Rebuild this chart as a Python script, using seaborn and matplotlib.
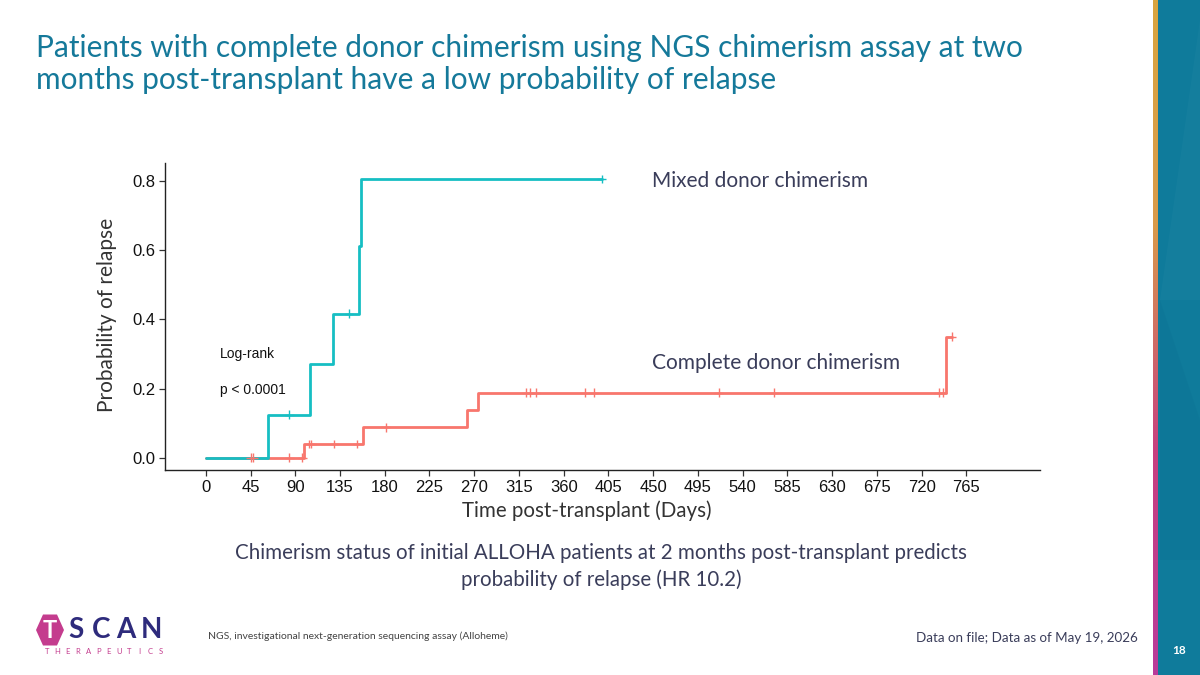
import matplotlib
matplotlib.use("Agg")
import matplotlib.pyplot as plt
import matplotlib.patches as mpatches
from matplotlib.colors import LinearSegmentedColormap
import numpy as np
import pandas as pd
import seaborn as sns

# ---------------- data ----------------
mixed_time = [0, 63, 105, 128, 154, 156, 398]
mixed_prob = [0.0, 0.125, 0.271, 0.417, 0.611, 0.806, 0.806]
mixed_censor_time = [84, 144, 398]
mixed_censor_prob = [0.125, 0.417, 0.806]

complete_time = [0, 99, 158, 263, 274, 744, 750]
complete_prob = [0.0, 0.040, 0.088, 0.139, 0.188, 0.350, 0.350]
complete_censor_time = [45, 48, 84, 97, 104, 106, 129, 152, 181, 322, 326, 332,
                        381, 390, 516, 571, 737, 741, 750]
complete_censor_prob = [0.0, 0.0, 0.0, 0.0, 0.040, 0.040, 0.040, 0.040, 0.088,
                        0.188, 0.188, 0.188, 0.188, 0.188, 0.188, 0.188, 0.188,
                        0.188, 0.350]

x_ticks = list(range(0, 766, 45))
y_ticks = [0.0, 0.2, 0.4, 0.6, 0.8]

groups = ["Complete donor chimerism", "Mixed donor chimerism"]
palette = {"Complete donor chimerism": "#F8766D", "Mixed donor chimerism": "#16BEC3"}

curves = pd.DataFrame({
    "time": complete_time + mixed_time,
    "prob": complete_prob + mixed_prob,
    "group": [groups[0]] * len(complete_time) + [groups[1]] * len(mixed_time),
})
censors = pd.DataFrame({
    "time": complete_censor_time + mixed_censor_time,
    "prob": complete_censor_prob + mixed_censor_prob,
    "group": [groups[0]] * len(complete_censor_time) + [groups[1]] * len(mixed_censor_time),
})

# ---------------- figure ----------------
sns.set_theme(style="white")
plt.rcParams["font.family"] = ["Lato", "DejaVu Sans"]

W, H = 1200, 675
fig = plt.figure(figsize=(12, 6.75), dpi=100)
fig.patch.set_facecolor("white")

def fx(px):
    return px / W

def fy(py):
    return 1 - py / H

# chart axes
ax = fig.add_axes([fx(165), fy(470), fx(1040) - fx(165), fy(163) - fy(470)])
ax.set_facecolor("white")
for i, g in enumerate(groups):
    sub = curves[curves["group"] == g]
    sns.lineplot(data=sub, x="time", y="prob", color=palette[g], ax=ax,
                 drawstyle="steps-post", linewidth=2.0, estimator=None,
                 sort=False, legend=False, zorder=2 + i)
sns.scatterplot(data=censors, x="time", y="prob", hue="group", palette=palette,
                marker="+", s=40, linewidth=1.0, ax=ax, legend=False, zorder=5)

ax.set_xlim(-41, 839)
ax.set_ylim(-0.035, 0.852)
ax.set_xticks(x_ticks)
ax.set_yticks(y_ticks)
ax.set_xticklabels([str(t) for t in x_ticks], fontfamily="Liberation Sans",
                   fontsize=12, color="#111111")
ax.set_yticklabels([f"{t:.1f}" for t in y_ticks], fontfamily="Liberation Sans",
                   fontsize=12, color="#111111")
ax.tick_params(axis="both", which="both", length=4, width=0.9, color="#333333",
               direction="out", bottom=True, left=True, pad=3)
for s in ["top", "right"]:
    ax.spines[s].set_visible(False)
for s in ["left", "bottom"]:
    ax.spines[s].set_color("#222222")
    ax.spines[s].set_linewidth(1.0)
ax.set_xlabel("")
ax.set_ylabel("")

ax.text(14, 0.30, "Log-rank", fontfamily="Liberation Sans", fontsize=10,
        color="#111111", va="center", ha="left")
ax.text(14, 0.197, "p < 0.0001", fontfamily="Liberation Sans", fontsize=10,
        color="#111111", va="center", ha="left")
ax.text(449, 0.80, "Mixed donor chimerism", fontsize=15, color="#3A3D5A",
        va="center", ha="left")
ax.text(449, 0.274, "Complete donor chimerism", fontsize=15, color="#3A3D5A",
        va="center", ha="left")

# axis labels
fig.text(fx(107), fy(315), "Probability of relapse", rotation=90, fontsize=15,
         color="#333333", ha="center", va="center")
fig.text(fx(587), fy(511), "Time post-transplant (Days)", fontsize=14.8,
         color="#333333", ha="center", va="center")

# title
fig.text(fx(36), fy(48), "Patients with complete donor chimerism using NGS chimerism assay at two",
         fontsize=21.5, color="#15799A", ha="left", va="center")
fig.text(fx(36), fy(80), "months post-transplant have a low probability of relapse",
         fontsize=21.5, color="#15799A", ha="left", va="center")

# caption
fig.text(fx(601), fy(553), "Chimerism status of initial ALLOHA patients at 2 months post-transplant predicts",
         fontsize=14.8, color="#3A3D5A", ha="center", va="center")
fig.text(fx(601), fy(580), "probability of relapse (HR 10.2)",
         fontsize=14.8, color="#3A3D5A", ha="center", va="center")

# footnotes
fig.text(fx(208), fy(636), "NGS, investigational next-generation sequencing assay (Alloheme)",
         fontsize=7.5, color="#444444", ha="left", va="center")
fig.text(fx(1138), fy(638), "Data on file; Data as of May 19, 2026",
         fontsize=9.6, color="#3A3D5A", ha="right", va="center")

# right side bar
fig.patches.append(mpatches.Rectangle((fx(1158), 0), fx(42), 1, transform=fig.transFigure,
                                      facecolor="#0F7B9B", edgecolor="none", zorder=0))
fig.patches.append(mpatches.Polygon([(fx(1160), fy(300)), (fx(1200), fy(20)), (fx(1200), fy(300))],
                                    closed=True, transform=fig.transFigure,
                                    facecolor="#2A8CAA", edgecolor="none", alpha=0.2, zorder=0))
fig.patches.append(mpatches.Polygon([(fx(1160), fy(300)), (fx(1200), fy(420)), (fx(1200), fy(560)),
                                     (fx(1160), fy(560))],
                                    closed=True, transform=fig.transFigure,
                                    facecolor="#0B6F90", edgecolor="none", alpha=0.25, zorder=0))
grad_ax = fig.add_axes([fx(1153), 0, fx(5), 1])
grad = np.linspace(0, 1, 256).reshape(-1, 1)
cmap = LinearSegmentedColormap.from_list("bar", ["#D9A53F", "#D99A4A", "#C7407F", "#B93A9A"])
grad_ax.imshow(grad, aspect="auto", cmap=cmap, extent=[0, 1, 0, 1], origin="upper")
grad_ax.axis("off")
fig.text(fx(1179), fy(650), "18", fontsize=8.5, color="white", ha="center", va="center",
         fontweight="bold")

# logo
hx, hy, rw, rh = 50, 630, 14, 15.5
hex_pts = [(fx(hx - rw), fy(hy)), (fx(hx - rw / 2), fy(hy - rh)), (fx(hx + rw / 2), fy(hy - rh)),
           (fx(hx + rw), fy(hy)), (fx(hx + rw / 2), fy(hy + rh)), (fx(hx - rw / 2), fy(hy + rh))]
fig.patches.append(mpatches.Polygon(hex_pts, closed=True, transform=fig.transFigure,
                                    facecolor="#C43C8E", edgecolor="none", zorder=1))
fig.text(fx(hx), fy(hy), "T", fontsize=17, color="white", ha="center", va="center",
         fontweight="bold")
for i, ch in enumerate("SCAN"):
    fig.text(fx(76 + i * 25), fy(630), ch, fontsize=20, color="#2E2B7C", ha="center",
             va="center", fontweight="bold")
for i, ch in enumerate("THERAPEUTICS"):
    fig.text(fx(47 + i * 10.3), fy(652), ch, fontsize=5.5, color="#C43C8E",
             ha="center", va="center")

fig.savefig("out.png", dpi=100, facecolor="white")
